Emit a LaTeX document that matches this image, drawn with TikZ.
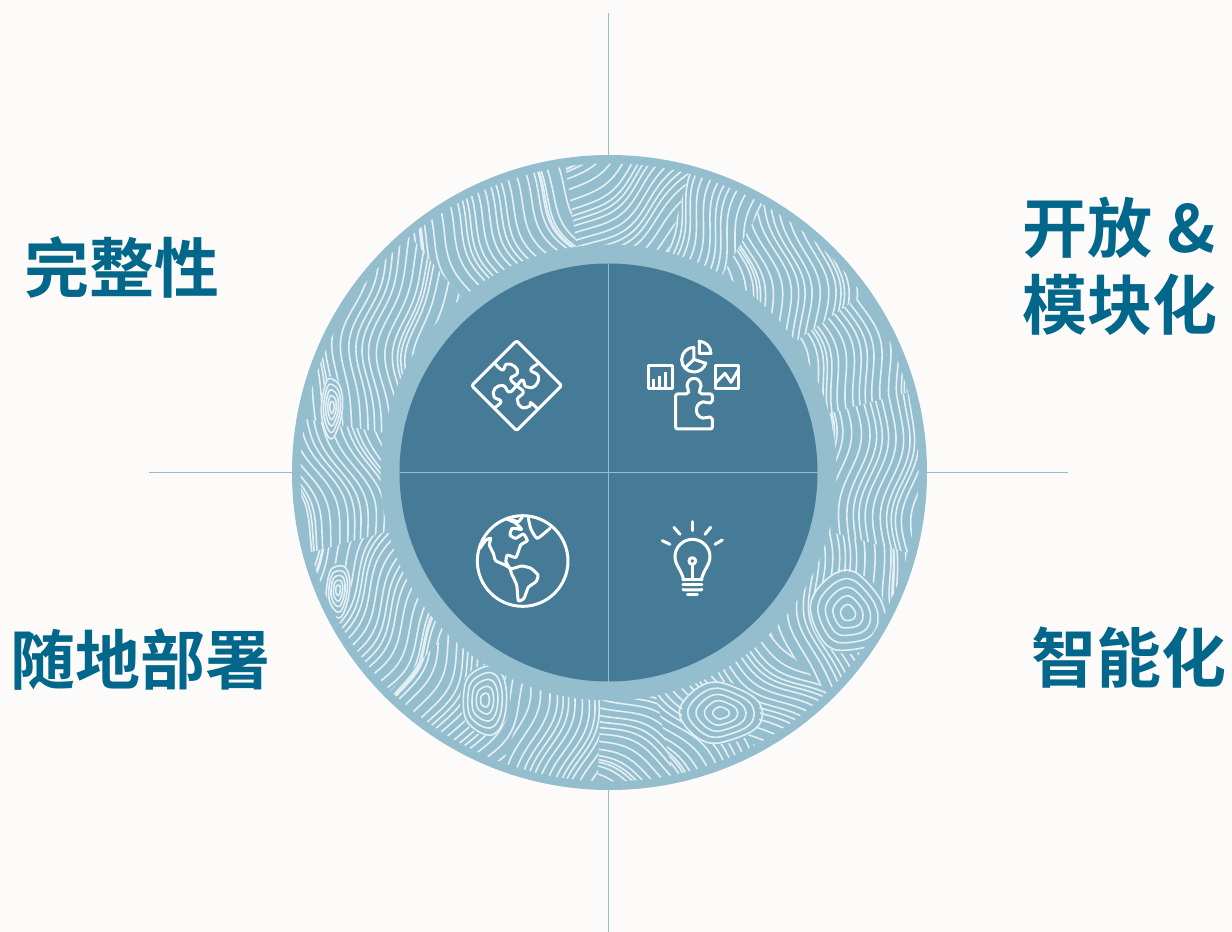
\documentclass[tikz,border=0pt]{standalone}
\usepackage{fontspec}
\newfontfamily\cjkfont{Noto Sans CJK SC}[BoldFont={Noto Sans CJK SC Bold}]
\usepackage{tikz}
\usetikzlibrary{calc, positioning}
\definecolor{mybg}{HTML}{FDFBF9}
\definecolor{myring}{HTML}{94BDCE}
\definecolor{mydisc}{HTML}{457B96}
\definecolor{mytext}{HTML}{02678A}
\definecolor{mygrain}{HTML}{E4F0F3}
\tikzset{
	axisline/.style={color=myring, line width=1pt},
	grainline/.style={color=mygrain, line width=1.6pt, line cap=round},
	iconline/.style={color=white, line width=3pt, line join=round, line cap=round},
	biglabel/.style={font=\cjkfont\bfseries\fontsize{65}{76}\selectfont, color=mytext, inner sep=0pt, align=center},
}

\begin{document}
\begin{tikzpicture}[x=1pt,y=-1pt]
	\fill[mybg] (0,0) rectangle (1232,932);
	\useasboundingbox (0,0) rectangle (1232,932);
	\coordinate (centre) at (608.5,472.5);
	\coordinate (rim) at (609.5,472.5);
	\coordinate (top) at (608.5,13);
	\coordinate (bottom) at (608.5,932);
	\coordinate (left) at (149,472.5);
	\coordinate (right) at (1068,472.5);
	\draw[axisline] (top) -- (bottom);
	\draw[axisline] (left) -- (right);
	\fill[myring] (rim) circle [radius=317.5];
	\begin{scope}
		\clip (rim) circle [radius=309];
		\foreach \angA/\angB/\rot/\ph in {-15/15/90/10, 15/45/-75/70, 45/62/-40/130, 62/78/-55/200, 78/92/-30/250, 92/110/80/35, 110/135/62/95, 135/165/55/160, 165/190/-75/220, 190/230/85/290, 230/262/-58/40, 262/285/35/120, 285/300/65/185, 300/325/-82/240, 325/345/-70/310}{
			\begin{scope}
				\clip (centre) -- ($(centre)+(\angA:420)$) -- ($(centre)+({(\angA+\angB)/2}:600)$) -- ($(centre)+(\angB:420)$) -- cycle;
				\begin{scope}[shift={($(centre)+({(\angA+\angB)/2}:268)$)},rotate=\rot]
					\foreach \k in {-19,...,19}{
						\draw[grainline] plot[domain=-140:140,samples=30,smooth] ({\x},{\k*(7+.8*sin(\k*47+\ph))+11*sin(1.7*\x+\ph)+2.6*sin(3.6*\x+\k*7+\ph)});
					}
				\end{scope}
			\end{scope}
		}
		\foreach \cx/\cy/\sx/\sy/\ph in {848/613/36/40/20, 721/713/38/30/80, 332/407/10/30/140, 338/590/12/26/200, 485/700/24/34/260}{
			\fill[myring] (\cx,\cy) circle [x radius=\sx+1,y radius=\sy+1];
			\foreach \n in {1,2,3,4,5}{
				\draw[grainline] plot[domain=0:360,samples=20,smooth cycle] ({\cx+\n*\sx/5*(1+.1*sin(2*\x+\ph))*cos(\x)},{\cy+\n*\sy/5*(1+.08*sin(3*\x+\ph))*sin(\x)});
			}
		}
	\end{scope}
	\fill[myring] (centre) circle [radius=228];
	\fill[mydisc] (centre) circle [radius=209];
	\draw[axisline] ($(centre)+(0,-209)$) -- ($(centre)+(0,209)$);
	\draw[axisline] ($(centre)+(-209,0)$) -- ($(centre)+(209,0)$);

	\begin{scope}[shift={(440,320)},x=0.3333pt,y=-0.3333pt]
		\draw[iconline,rounded corners=2pt] (230,62) -- (365,197) -- (230,332) -- (95,197) -- cycle;
		\draw[iconline] plot[smooth,tension=0.8] coordinates {(167,133) (188,150) (200,132) (225,140) (232,160) (212,176) (230,197) (250,217) (232,238) (245,262) (270,258) (272,248) (292,266)};
		\draw[iconline] plot[smooth,tension=0.8] coordinates {(292,133) (272,150) (295,168) (285,198) (258,200) (248,180) (230,197) (208,216) (190,197) (165,205) (162,230) (183,244) (165,262)};

		\draw[iconline,line cap=butt,miter limit=2] (627,135) rectangle (697,207);
		\draw[iconline,line cap=butt] (642,207) -- (642,178);
		\draw[iconline,line cap=butt] (660,207) -- (660,167);
		\draw[iconline,line cap=butt] (678,207) -- (678,155);
		\draw[iconline,line cap=butt] (827,135) rectangle (897,207);
		\draw[iconline] (829,187) -- (855,160) -- (873,187) -- (896,148);
		\draw[iconline] (762,82) arc [start angle=-90,end angle=-345,x radius=37,y radius=37];
		\draw[iconline] (762,82) -- (762,118) -- (797,130);
		\draw[iconline] (762,118) -- (736,143);
		\draw[iconline] (778,63) -- (778,100) -- (813,100) arc [start angle=0,end angle=-90,radius=36] -- cycle;
		\draw[iconline,rounded corners=2pt] (707,327) -- (707,222) -- (744,222) -- (748,212) .. controls (735,196) and (748,176) .. (762,176) .. controls (776,176) and (790,196) .. (776,212) -- (780,222) -- (817,222) -- (817,248) -- (805,250) .. controls (785,240) and (770,255) .. (770,270) .. controls (770,285) and (785,300) .. (805,290) -- (817,292) -- (817,327) -- cycle;
	\end{scope}

	\begin{scope}[shift={(450,500)},x=0.3333pt,y=-0.3333pt]
		\draw[iconline] (218,183) circle [radius=136];
		\draw[iconline] plot[smooth,tension=0.3] coordinates {(90,145) (108,120) (122,115) (118,135) (130,160) (137,182) (165,195) (185,206) (215,198) (243,205) (264,225) (258,245) (235,262) (222,295) (205,302) (200,255) (185,222) (180,207) (168,185) (172,165) (198,172) (212,135) (232,122) (220,102) (197,115) (180,105) (187,85) (215,88) (195,68) (170,57)};
		\draw[iconline] (182,58) -- (205,66) -- (217,52);
		\draw[iconline] plot[smooth,tension=0.3] coordinates {(235,55) (243,88) (262,115) (300,85)};

		\draw[iconline] (727,65) -- (727,92);
		\draw[iconline] (672,82) -- (690,103);
		\draw[iconline] (782,82) -- (765,103);
		\draw[iconline] (637,122) -- (660,133);
		\draw[iconline] (817,120) -- (795,133);
		\draw[iconline] (701,240) .. controls (695,210) and (675,195) .. (675,170) .. controls (675,140) and (700,118) .. (727,118) .. controls (755,118) and (780,140) .. (780,170) .. controls (780,195) and (760,210) .. (754,240);
		\draw[iconline] (727,183) circle [radius=10];
		\draw[iconline] (727,193) -- (727,240);
		\draw[iconline] (699,240) -- (756,240);
		\draw[iconline] (699,255) -- (756,255);
		\draw[iconline] (699,268) .. controls (699,268) and (700,270) .. (705,270) -- (750,270) .. controls (755,270) and (756,268) .. (756,268);
		\draw[iconline] (712,285) -- (742,285);
	\end{scope}

	\node[biglabel] (wanzheng) at (122,267) {完整性};
	\node[biglabel] (kaifang) at (1119,228) {开放 \&};
	\node[biglabel] (mokuai) at (1120,305) {模块化};
	\node[biglabel] (suidi) at (140,660) {随地部署};
	\node[biglabel] (zhineng) at (1129,658) {智能化};
\end{tikzpicture}
\end{document}
